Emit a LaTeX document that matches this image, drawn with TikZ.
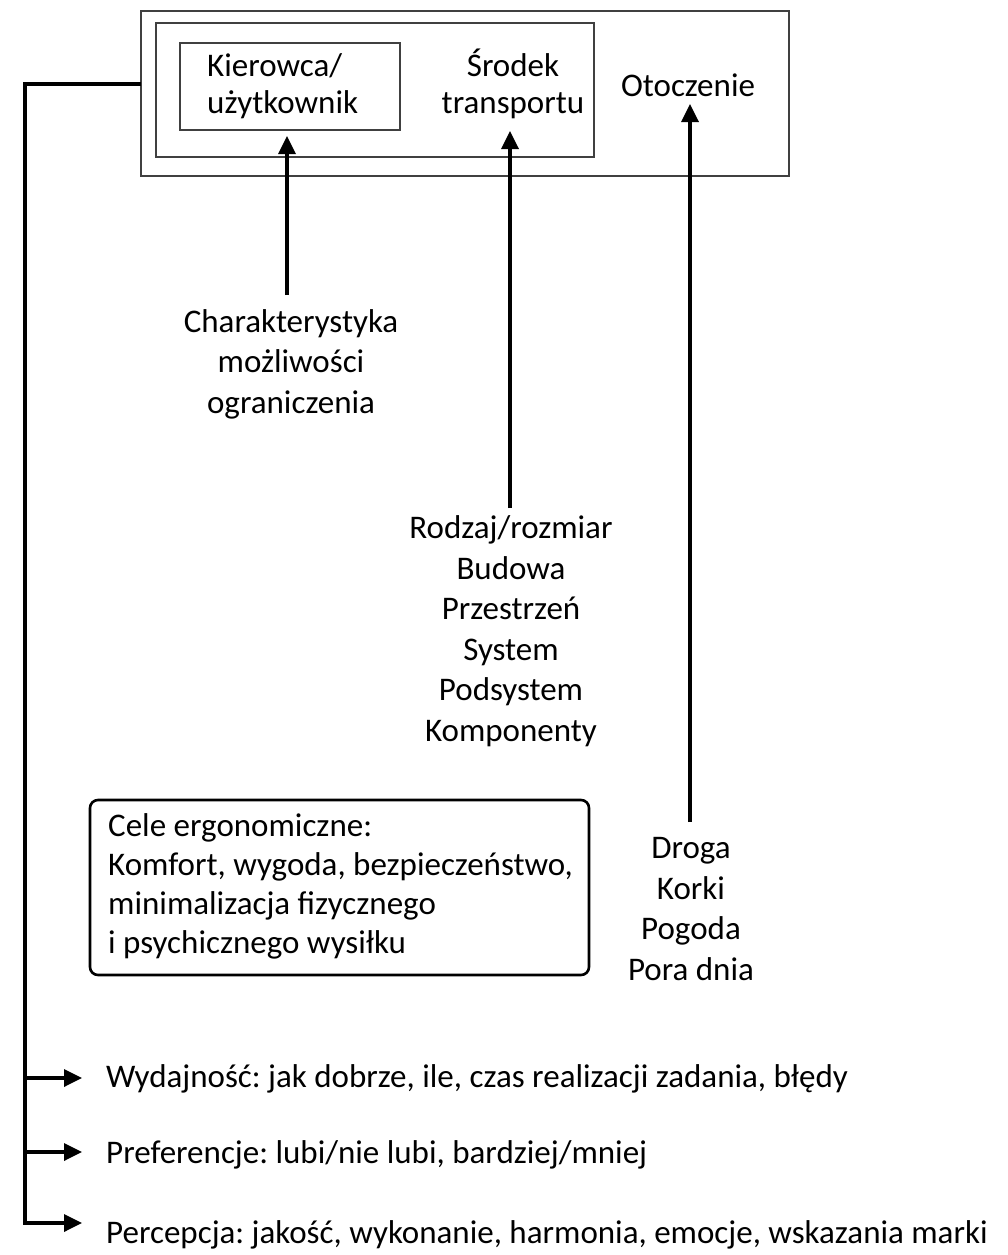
\documentclass[tikz,border=0pt]{standalone}
\usepackage{fontspec}
\setmainfont{Carlito}
\usetikzlibrary{arrows.meta}
\begin{document}
\frenchspacing
\begin{tikzpicture}[x=1pt,y=-1pt,
  txt/.style={inner sep=0pt,align=center,font=\fontsize{33}{40.5}\selectfont,text=black},
  ltxt/.style={inner sep=0pt,align=left,anchor=west,font=\fontsize{33}{39}\selectfont,text=black},
  thinbox/.style={draw=black!75,line width=1.6pt},
  arr/.style={line width=3.4pt,-{Triangle[length=18pt,width=17pt]}},
  conn/.style={line width=3.4pt}
]
\useasboundingbox (0,0) rectangle (1007,1255);
% boxes
\draw[thinbox] (141,11) rectangle (789,176);
\draw[thinbox] (156,23) rectangle (594,157);
\node[thinbox,minimum width=220pt,minimum height=87pt,inner sep=0pt] (inner) at (290,86.5) {};
% top texts
\node[ltxt,font=\fontsize{33}{37}\selectfont] (kier) at (207,86) {Kierowca/\\użytkownik};
\node[txt,font=\fontsize{33}{37}\selectfont] (srod) at (513,84) {Środek\\transportu};
\node[txt] (oto) at (688,85) {Otoczenie};
% lower texts
\node[txt] (char) at (291,364) {Charakterystyka\\możliwości\\ograniczenia};
\node[txt] (rodz) at (511,631) {Rodzaj/rozmiar\\Budowa\\Przestrzeń\\System\\Podsystem\\Komponenty};
\node[txt] (drog) at (691,909) {Droga\\Korki\\Pogoda\\Pora dnia};
% cele box
\draw[line width=2.6pt,rounded corners=8pt] (90,800) rectangle (589,975);
\node[ltxt] (cele) at (108,886) {Cele ergonomiczne:\\Komfort, wygoda, bezpieczeństwo,\\minimalizacja fizycznego\\i psychicznego wysiłku};
% vertical arrows
\coordinate (t1) at (287,136);
\coordinate (t2) at (510,131);
\coordinate (t3) at (690,104);
\coordinate (b1) at (287,295);
\coordinate (b2) at (510,508);
\coordinate (b3) at (690,822);
\draw[arr] (b1) -- (t1);
\draw[arr] (b2) -- (t2);
\draw[arr] (b3) -- (t3);
% left connector
\node[ltxt] (wyd) at (106,1079) {Wydajność: jak dobrze, ile, czas realizacji zadania, błędy};
\node[ltxt] (pref) at (106,1155) {Preferencje: lubi/nie lubi, bardziej/mniej};
\node[ltxt] (perc) at (106,1235) {Percepcja: jakość, wykonanie, harmonia, emocje, wskazania marki};
\coordinate (c0) at (141,84);
\coordinate (c1) at (25,84);
\coordinate (c2) at (25,1223);
\coordinate (e1) at (25,1078);
\coordinate (e2) at (25,1152);
\coordinate (a1) at (82,1078);
\coordinate (a2) at (82,1152);
\coordinate (a3) at (82,1223);
\draw[conn] (c0) -- (c1) -- ([yshift=1.7pt]c2);
\draw[arr] ([xshift=-1.7pt]c2) -- (a3);
\draw[arr] (e1) -- (a1);
\draw[arr] (e2) -- (a2);
\end{tikzpicture}
\end{document}
